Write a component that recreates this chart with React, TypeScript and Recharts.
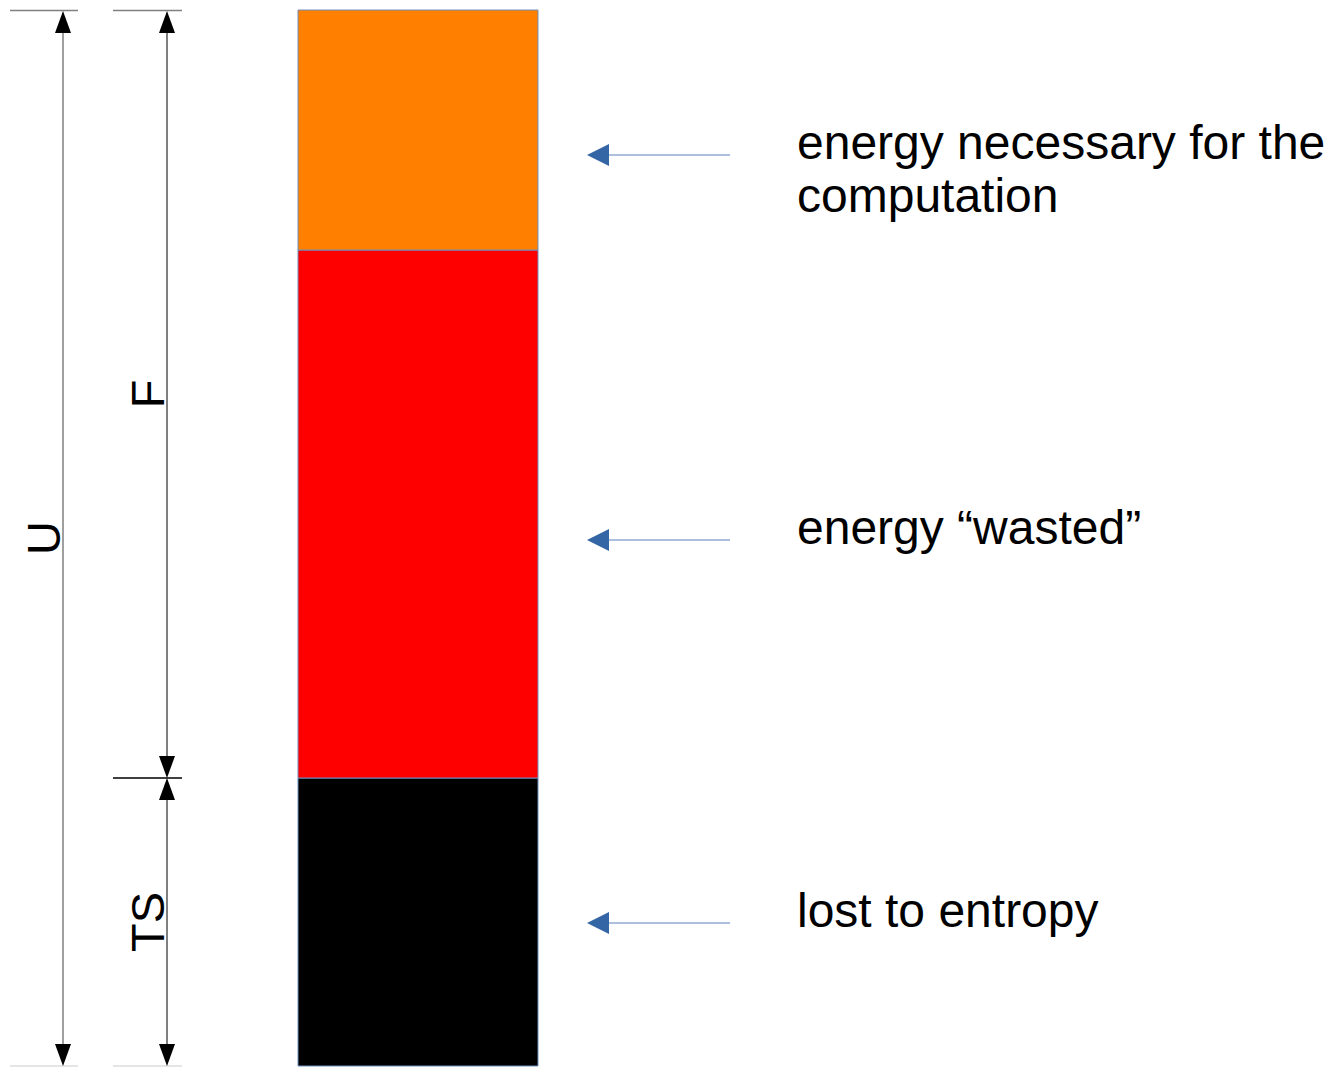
import { BarChart, Bar, XAxis, YAxis, LabelList } from 'recharts'

// one stacked column: U = TS + F, where F = wasted + necessary
const categories = ['U']
const lostToEntropy = [288]
const wastedEnergy = [528]
const necessaryEnergy = [240]

// notes to the right of each segment, bottom to top
const noteLines = [
  ['lost to entropy'],
  ['energy \u201cwasted\u201d'],
  ['energy necessary for the', 'computation'],
]
// level (in energy units from the bottom) where each note arrow points
const noteLevels = [143, 526, 911]

const dimensionLabels = ['U', 'F', 'TS']

const data = categories.map((name, i) => ({
  name,
  ts: lostToEntropy[i],
  wasted: wastedEnergy[i],
  necessary: necessaryEnergy[i],
}))
const total = lostToEntropy[0] + wastedEnergy[0] + necessaryEnergy[0]

const FONT = "'Liberation Sans', Arial, sans-serif"
const FONT_SIZE = 48
const NOTE_BLUE = '#3465a4'

function DownHead({ x, y }: { x: number; y: number }) {
  return <path d={`M${x},${y} L${x - 8},${y - 22} L${x + 8},${y - 22} Z`} fill="#000" />
}

function UpHead({ x, y }: { x: number; y: number }) {
  return <path d={`M${x},${y} L${x - 8},${y + 22} L${x + 8},${y + 22} Z`} fill="#000" />
}

function VLabel({ x, y, text }: { x: number; y: number; text: string }) {
  return (
    <text
      x={x}
      y={y}
      transform={`rotate(-90 ${x} ${y})`}
      textAnchor="middle"
      fontFamily={FONT}
      fontSize={47}
      fill="#000"
    >
      {text}
    </text>
  )
}

// drawn from the bottom segment: it knows the base and the scale of the column
function Dimensions(props: any) {
  const { x, y, height } = props
  if (x === undefined || y === undefined) return null
  const segTop = Math.min(y, y + height)
  const h = Math.abs(height)
  const bottom = segTop + h
  const ppu = h / lostToEntropy[0]
  const top = bottom - total * ppu
  const split = segTop

  const uX = x - 235
  const fX = x - 131

  return (
    <g>
      {/* U */}
      <line x1={uX - 53} x2={uX + 15} y1={top + 0.5} y2={top + 0.5} stroke="#808080" strokeWidth={1.3} />
      <line x1={uX - 53} x2={uX + 15} y1={bottom} y2={bottom} stroke="#dddddd" strokeWidth={1.3} />
      <line x1={uX} x2={uX} y1={top + 10} y2={bottom - 10} stroke="#7f7f7f" strokeWidth={1.5} />
      <UpHead x={uX} y={top + 1} />
      <DownHead x={uX} y={bottom} />
      <VLabel x={uX - 3} y={(top + bottom) / 2} text={dimensionLabels[0]} />

      {/* F */}
      <line x1={fX - 54} x2={fX + 15} y1={top + 0.5} y2={top + 0.5} stroke="#808080" strokeWidth={1.3} />
      <line x1={fX} x2={fX} y1={top + 10} y2={split - 10} stroke="#000" strokeWidth={1} />
      <UpHead x={fX} y={top + 1} />
      <DownHead x={fX} y={split} />
      <VLabel x={fX - 3} y={(top + split) / 2} text={dimensionLabels[1]} />

      {/* TS */}
      <line x1={fX - 54} x2={fX + 15} y1={split} y2={split} stroke="#000" strokeWidth={1.3} />
      <line x1={fX - 54} x2={fX + 15} y1={bottom} y2={bottom} stroke="#dddddd" strokeWidth={1.3} />
      <line x1={fX} x2={fX} y1={split + 10} y2={bottom - 10} stroke="#000" strokeWidth={1} />
      <UpHead x={fX} y={split} />
      <DownHead x={fX} y={bottom} />
      <VLabel x={fX - 3} y={(split + bottom) / 2} text={dimensionLabels[2]} />
    </g>
  )
}

function SegmentNote(props: any) {
  const { x, y, width, height, idx, base } = props
  if (x === undefined || y === undefined) return null
  const segTop = Math.min(y, y + height)
  const h = Math.abs(height)
  const segBottom = segTop + h
  const value = [lostToEntropy[0], wastedEnergy[0], necessaryEnergy[0]][idx]
  const ppu = h / value
  const arrowY = segBottom - (noteLevels[idx] - base) * ppu
  const right = x + width
  const tip = right + 49
  const lines = noteLines[idx]

  return (
    <g>
      <line x1={tip + 20} x2={right + 192} y1={arrowY} y2={arrowY} stroke="#5b80bd" strokeWidth={1.2} />
      <path d={`M${tip},${arrowY} L${tip + 22},${arrowY - 11} L${tip + 22},${arrowY + 11} Z`} fill={NOTE_BLUE} />
      <text x={right + 259} y={arrowY + 4} fontFamily={FONT} fontSize={FONT_SIZE} fill="#000">
        {lines.map((ln, i) => (
          <tspan key={i} x={right + 259} dy={i === 0 ? 0 : 53}>
            {ln}
          </tspan>
        ))}
      </text>
    </g>
  )
}

export default function App() {
  return (
    <div style={{ position: 'absolute', left: 0, top: 0, background: '#fff' }}>
      <BarChart
        width={1330}
        height={1067}
        data={data}
        margin={{ top: 10, right: 792, bottom: 1, left: 298 }}
        barCategoryGap={0}
      >
        <XAxis dataKey="name" hide />
        <YAxis hide domain={[0, total]} />
        <Bar dataKey="ts" stackId="u" fill="#000000" stroke="#6d8ebf" strokeWidth={1} isAnimationActive={false}>
          <LabelList content={(p: any) => (
            <g>
              <Dimensions {...p} />
              <SegmentNote {...p} idx={0} base={0} />
            </g>
          )} />
        </Bar>
        <Bar dataKey="wasted" stackId="u" fill="#ff0000" stroke="#6d8ebf" strokeWidth={1} isAnimationActive={false}>
          <LabelList content={(p: any) => <SegmentNote {...p} idx={1} base={lostToEntropy[0]} />} />
        </Bar>
        <Bar dataKey="necessary" stackId="u" fill="#ff8000" stroke="#6d8ebf" strokeWidth={1} isAnimationActive={false}>
          <LabelList content={(p: any) => <SegmentNote {...p} idx={2} base={lostToEntropy[0] + wastedEnergy[0]} />} />
        </Bar>
      </BarChart>
    </div>
  )
}
